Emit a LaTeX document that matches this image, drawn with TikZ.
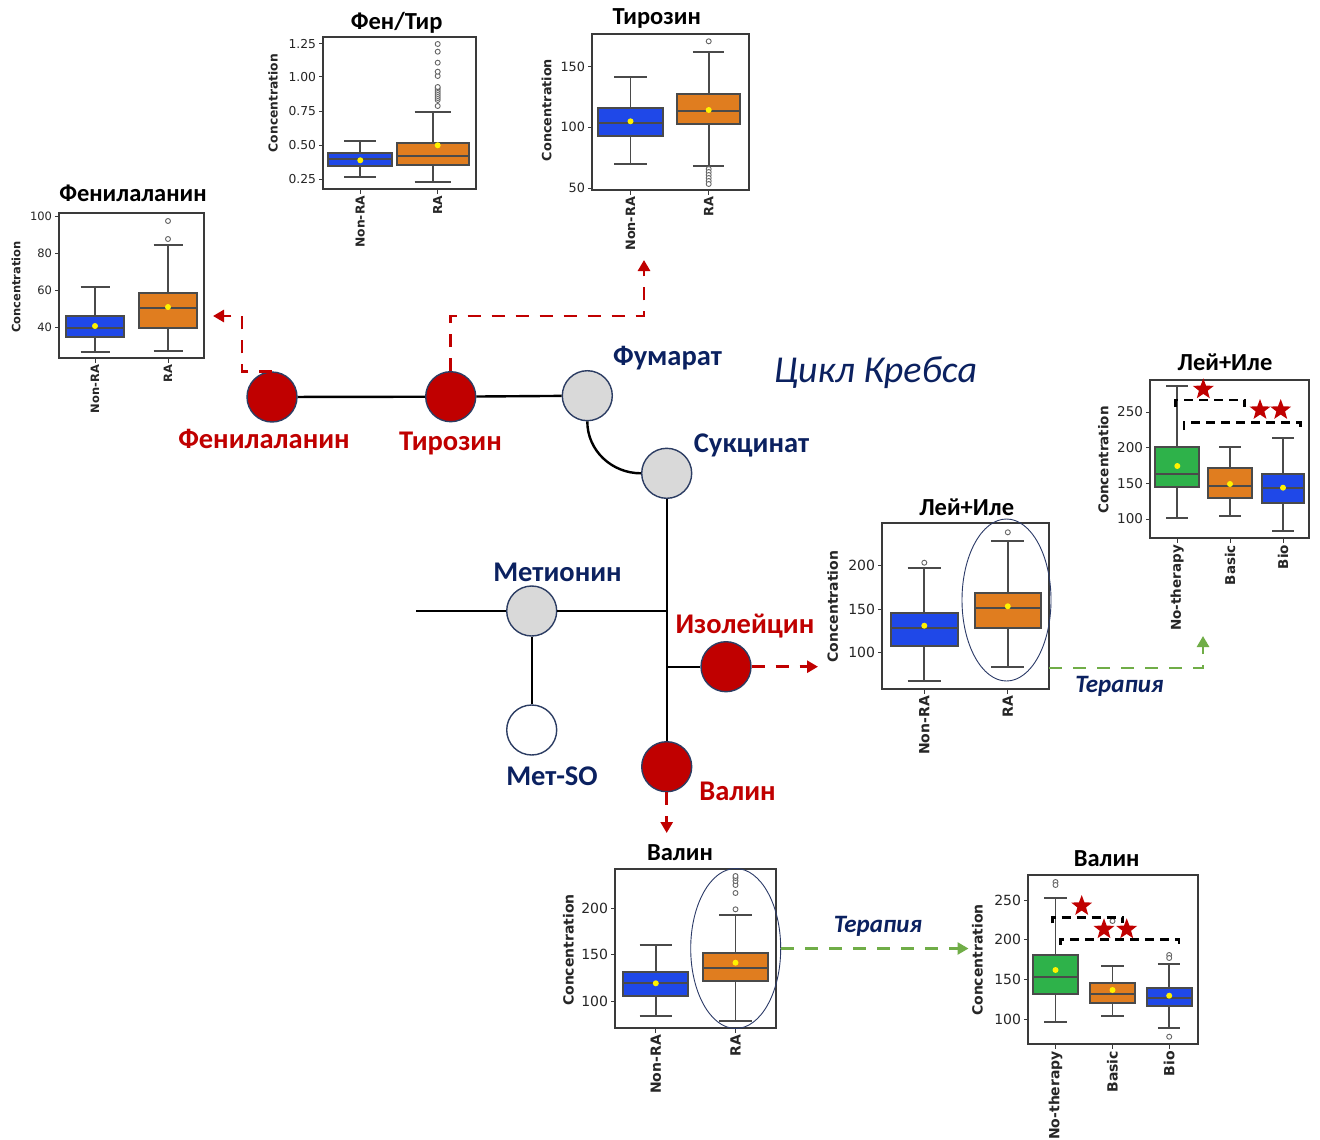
\documentclass[tikz,border=0pt]{standalone}
\usepackage{fontspec}
\setmainfont{Carlito}
\newfontfamily\plotfont{DejaVu Sans}
\usetikzlibrary{arrows.meta,shapes.geometric}

\definecolor{kred}{HTML}{C00000}
\definecolor{knavy}{HTML}{0B2160}
\definecolor{kgray}{HTML}{D9D9D9}
\definecolor{kring}{HTML}{2C3D63}
\definecolor{sbblue}{HTML}{1F48E8}
\definecolor{sborange}{HTML}{E07D1F}
\definecolor{sbgreen}{HTML}{2EB24A}
\definecolor{boxedge}{HTML}{4A4A4A}
\definecolor{framec}{HTML}{3A3A3A}
\definecolor{tgreen}{HTML}{70AD47}
\definecolor{ovalc}{HTML}{2B3A67}

\newcounter{lbl}
\def\pfs{12}

% box with whiskers: left x, right x, q3 y, q1 y, median y, upper whisker y, lower whisker y, fill
\newcommand\bxp[8]{%
  \pgfmathsetmacro\bpMid{(#1+#2)/2}%
  \pgfmathsetmacro\bpCa{0.75*#1+0.25*#2}%
  \pgfmathsetmacro\bpCb{0.25*#1+0.75*#2}%
  \draw[whisk] (\bpMid,#3) -- (\bpMid,#6) (\bpCa,#6) -- (\bpCb,#6)
               (\bpMid,#4) -- (\bpMid,#7) (\bpCa,#7) -- (\bpCb,#7);
  \filldraw[whisk, fill=#8] (#1,#3) rectangle (#2,#4);
  \draw[whisk] (#1,#5) -- (#2,#5);
}
\newcommand\bpMean[2]{\fill[yellow] (#1,#2) circle (3);}
\newcommand\bpOut[2]{\draw[outl] (#1,#2) circle (2.5);}
% axes frame as a named node: name, x1, y1, x2, y2
\newcommand\frm[5]{%
  \pgfmathsetmacro\frmW{#4-#2}\pgfmathsetmacro\frmH{#5-#3}%
  \node[pframe, minimum width=\frmW, minimum height=\frmH] (#1) at ({(#2+#4)/2},{(#3+#5)/2}) {};}
% y tick: axis x, y, label
\newcommand\ytk[3]{\stepcounter{lbl}%
  \draw[tickl] (#1,#2) -- ++(-4.5,0) node[anchor=east, inner sep=2, text=black!85,
    font=\plotfont\fontsize{\pfs}{\pfs}\selectfont] (l\arabic{lbl}) {#3};}
% x tick: x, axis y, label
\newcommand\xtk[3]{\stepcounter{lbl}%
  \draw[tickl] (#1,#2) -- ++(0,4.5) node[rotate=90, anchor=east, inner sep=2, text=black!85,
    font=\plotfont\bfseries\fontsize{\pfs}{\pfs}\selectfont] (l\arabic{lbl}) {#3};}
\newcommand\ylab[2]{\stepcounter{lbl}%
  \node[rotate=90, text=black!85, font=\plotfont\bfseries\fontsize{\pfs}{\pfs}\selectfont]
    (l\arabic{lbl}) at (#1,#2) {Concentration};}

\begin{document}
\begin{tikzpicture}[x=1pt,y=-1pt,
  pathline/.style={line width=2.4, black},
  met/.style={circle, minimum size=50, inner sep=0, draw=kring, line width=1.4},
  hit/.style={met, fill=kred},
  cyc/.style={met, fill=kgray},
  redlab/.style={anchor=base, text=kred, inner sep=0, font=\bfseries\fontsize{28.5}{31}\selectfont},
  navylab/.style={anchor=base, text=knavy, inner sep=0, font=\bfseries\fontsize{28.5}{31}\selectfont},
  ptitle/.style={anchor=base, inner sep=0, font=\bfseries\fontsize{24.5}{27}\selectfont},
  pframe/.style={draw=framec, line width=1.3, inner sep=0},
  whisk/.style={draw=boxedge, line width=1.8},
  outl/.style={draw=black!60, line width=0.9, fill=white},
  tickl/.style={draw=framec, line width=1},
  brk/.style={black, line width=2.6, dash pattern=on 9pt off 6pt},
  starm/.style={star, star points=5, star point ratio=2.4, fill=kred, inner sep=0, minimum size=22},
  oval/.style={ellipse, draw=ovalc, line width=0.9, inner sep=0},
  reddash/.style={draw=kred, line width=2.8, dash pattern=on 13pt off 11pt,
    -{Triangle[length=11pt,width=12pt]}},
  greendash/.style={draw=tgreen, line width=2.6, dash pattern=on 13pt off 11pt,
    -{Triangle[length=11pt,width=12pt]}},
  therapy/.style={anchor=base, text=knavy, inner sep=0, font=\bfseries\itshape\fontsize{25}{27}\selectfont}
]
\fill[white] (0,0) rectangle (1320,1140);
\useasboundingbox (0,0) rectangle (1320,1140);

% ---------------- metabolic pathway ----------------
\node[hit] (phe) at (272,397) {};
\node[hit] (tyr) at (450.7,396.7) {};
\node[cyc] (fum) at (587.3,395.7) {};
\node[cyc] (suc) at (666.7,473.3) {};
\node[cyc] (met) at (531.7,611) {};
\node[met, fill=white] (metso) at (531.7,730) {};
\node[hit] (ile) at (726,666.7) {};
\node[hit] (val) at (666.7,766.7) {};
\coordinate (stub) at (416,611);
\coordinate (jmet) at (666.7,611);
\coordinate (jile) at (666.7,666.7);

\draw[pathline] (phe) -- (tyr);
\draw[pathline] (tyr) -- (fum);
\draw[pathline] (fum.south) to[out=-90,in=180] (suc.west);
\draw[pathline] (suc) -- (val);
\draw[pathline] (stub) -- (met);
\draw[pathline] (met) -- (jmet);
\draw[pathline] (met) -- (metso);
\draw[pathline] (jile) -- (ile);

\node[redlab] (phelab) at (264,448.5) {Фенилаланин};
\node[redlab] (tyrlab) at (450.5,450.5) {Тирозин};
\node[navylab] (fumlab) at (667.5,365) {Фумарат};
\node[navylab] (suclab) at (751.5,452) {Сукцинат};
\node[navylab] (metlab) at (557.5,581.5) {Метионин};
\node[redlab] (ilelab) at (745,633) {Изолейцин};
\node[navylab] (metsolab) at (552,785) {Мет-SO};
\node[redlab] (vallab) at (737.5,800) {Валин};
\node[anchor=base, text=knavy, inner sep=0, font=\itshape\fontsize{38}{41}\selectfont]
  (krebs) at (875.5,382.5) {Цикл Кребса};

% ---------------- plot: Фенилаланин ----------------
\def\pfs{11.5}
\bxp{66}{124}{316}{337}{328}{287}{352}{sbblue}
\bpMean{95}{326}
\bxp{139}{197}{293}{328}{308}{245}{351}{sborange}
\bpMean{168}{307}
\bpOut{168}{221}\bpOut{168}{239}
\frm{f1}{59}{213}{204}{358}
\ytk{59}{216}{100}\ytk{59}{253}{80}\ytk{59}{290}{60}\ytk{59}{327}{40}
\xtk{95}{358}{Non-RA}\xtk{168}{358}{RA}
\ylab{16}{287}
\node[ptitle] (t1) at (133,201.5) {Фенилаланин};

% ---------------- plot: Фен/Тир ----------------
\def\pfs{12.3}
\bxp{328.3}{392.3}{153.3}{166}{159.3}{140.7}{176.7}{sbblue}
\bpMean{360.3}{160.3}
\bxp{396.7}{468.7}{142.7}{164.7}{155.7}{111.7}{182.3}{sborange}
\bpMean{437.7}{145.3}
\foreach \oy in {106,100,98,96,94,92,90,88,87,76,71.7,62.7,51.7,44} {\bpOut{437.7}{\oy}}
\frm{f2}{323}{37}{476}{189}
\ytk{323}{44}{1.25}\ytk{323}{76.7}{1.00}\ytk{323}{111}{0.75}\ytk{323}{145}{0.50}\ytk{323}{179}{0.25}
\xtk{360.3}{189}{Non-RA}\xtk{437.7}{189}{RA}
\ylab{273}{103}
\node[ptitle] (t2) at (396.7,29.3) {Фен/Тир};

% ---------------- plot: Тирозин ----------------
\def\pfs{12.8}
\bxp{598.3}{662.7}{108.3}{135.7}{122.7}{77.3}{164.3}{sbblue}
\bpMean{630.5}{121.3}
\bxp{677.3}{740}{94.3}{124}{111}{51.7}{166}{sborange}
\bpMean{708.7}{110}
\foreach \oy in {41.3,169,172,175,178,181,184} {\bpOut{708.7}{\oy}}
\frm{f3}{592}{34}{749}{190}
\ytk{592}{66.7}{150}\ytk{592}{127.3}{100}\ytk{592}{188.3}{50}
\xtk{630.5}{190}{Non-RA}\xtk{708.7}{190}{RA}
\ylab{546.7}{110}
\node[ptitle] (t3) at (656.7,25) {Тирозин};

% ---------------- plot: Лей+Иле ----------------
\def\pfs{14}
\bxp{891}{957.7}{612.7}{645.7}{627.7}{568.3}{681}{sbblue}
\bpMean{924.3}{625.7}
\bpOut{924.3}{562.7}
\bxp{975}{1040.7}{593.3}{627.7}{608}{541.3}{667.3}{sborange}
\bpMean{1007.8}{606.3}
\bpOut{1007.8}{532.3}
\frm{f4}{882}{523}{1049}{689}
\ytk{882}{565}{200}\ytk{882}{609}{150}\ytk{882}{652.7}{100}
\xtk{924.3}{689}{Non-RA}\xtk{1007.8}{689}{RA}
\ylab{832.7}{606.7}
\node[oval, minimum width=89, minimum height=162] (ov4) at (1006.5,600) {};
\node[ptitle] (t4) at (966.7,515) {Лей+Иле};

% ---------------- plot: Лей+Иле by therapy ----------------
\def\pfs{13.5}
\bxp{1155.3}{1199.3}{446.7}{486.7}{474}{386}{518.3}{sbgreen}
\bpMean{1177.3}{466}
\bxp{1208.3}{1251.7}{468.3}{498.3}{485.7}{446.7}{516}{sborange}
\bpMean{1230}{484}
\bxp{1261.7}{1304.3}{474}{503.3}{487.7}{437.7}{530.7}{sbblue}
\bpMean{1283}{487.7}
\frm{f5}{1150}{380}{1309}{538}
\ytk{1150}{412}{250}\ytk{1150}{447.7}{200}\ytk{1150}{483.3}{150}\ytk{1150}{519}{100}
\xtk{1177.3}{538}{No-therapy}\xtk{1230}{538}{Basic}\xtk{1283}{538}{Bio}
\ylab{1103.3}{460}
\draw[brk] (1175.7,406.7) -- (1175.7,400) -- (1244.3,400) -- (1244.3,406.7);
\draw[brk] (1184,430) -- (1184,422.3) -- (1300.7,422.3) -- (1300.7,430);
\node[starm] (s51) at (1203.3,389.3) {};
\node[starm] (s52) at (1260,410) {};
\node[starm] (s53) at (1280.7,410) {};
\node[ptitle] (t5) at (1225,370.7) {Лей+Иле};

% ---------------- plot: Валин ----------------
\def\pfs{14}
\bxp{623.3}{688.3}{972.3}{996}{982.7}{945}{1015.7}{sbblue}
\bpMean{655.8}{983.3}
\bxp{703.3}{767.7}{953.3}{980.7}{968}{915}{1020.7}{sborange}
\bpMean{735.5}{962.7}
\foreach \oy in {909.3,893,885,881,878,876} {\bpOut{735.5}{\oy}}
\frm{f6}{615}{869}{776}{1028}
\ytk{615}{908.3}{200}\ytk{615}{954.3}{150}\ytk{615}{1001}{100}
\xtk{655.8}{1028}{Non-RA}\xtk{735.5}{1028}{RA}
\ylab{568.3}{950}
\node[oval, minimum width=90, minimum height=160] (ov6) at (735.7,948.5) {};
\node[ptitle] (t6) at (680,860.7) {Валин};

% ---------------- plot: Валин by therapy ----------------
\def\pfs{14}
\bxp{1032.7}{1078.3}{955}{994}{977.3}{898.3}{1021.7}{sbgreen}
\bpMean{1055.5}{970}
\bpOut{1055.5}{882}\bpOut{1055.5}{885}
\bxp{1090}{1135}{982.7}{1002.7}{994}{966}{1015.7}{sborange}
\bpMean{1112.5}{990}
\bpOut{1112.5}{921}
\bxp{1146.7}{1191.7}{987.7}{1005.7}{998.3}{964}{1028.3}{sbblue}
\bpMean{1169.2}{995.7}
\bpOut{1169.2}{955}\bpOut{1169.2}{958}\bpOut{1169.2}{1036.7}
\frm{f7}{1028}{875}{1198}{1044}
\ytk{1028}{900.7}{250}\ytk{1028}{939.3}{200}\ytk{1028}{979.3}{150}\ytk{1028}{1019.3}{100}
\xtk{1055.5}{1044}{No-therapy}\xtk{1112.5}{1044}{Basic}\xtk{1169.2}{1044}{Bio}
\ylab{977.3}{960}
\draw[brk] (1052.7,923.3) -- (1052.7,917.3) -- (1122.7,917.3) -- (1122.7,923.3);
\draw[brk] (1060.7,945) -- (1060.7,939.3) -- (1179,939.3) -- (1179,945);
\node[starm] (s71) at (1081.7,906) {};
\node[starm] (s72) at (1104,929.3) {};
\node[starm] (s73) at (1126.7,929.3) {};
\node[ptitle] (t7) at (1106.7,866) {Валин};

% ---------------- links from metabolites to plots ----------------
\coordinate (phebend) at (242,316);
\coordinate (f1tip) at (213,316);
\coordinate (tyrbend) at (644,316);
\coordinate (f3tip) at (644,260);
\coordinate (f4tip) at (818,666.7);
\coordinate (f6tip) at (666.7,833);
\draw[reddash] (phe.north) -| (phebend) -- (f1tip);
\draw[reddash] (tyr.north) |- (tyrbend) -- (f3tip);
\draw[reddash] (ile.east) -- (f4tip);
\draw[reddash] (val.south) -- (f6tip);

% ---------------- therapy comparisons ----------------
\coordinate (f4out) at (1049,668);
\coordinate (f5tip) at (1203,636);
\coordinate (f7tip) at (968.5,948.5);
\draw[greendash] (f4out) -| (f5tip);
\draw[greendash] (ov6.east) -- (f7tip);
\node[therapy] (th1) at (1119.5,692) {Терапия};
\node[therapy] (th2) at (878,932.5) {Терапия};
\end{tikzpicture}
\end{document}
